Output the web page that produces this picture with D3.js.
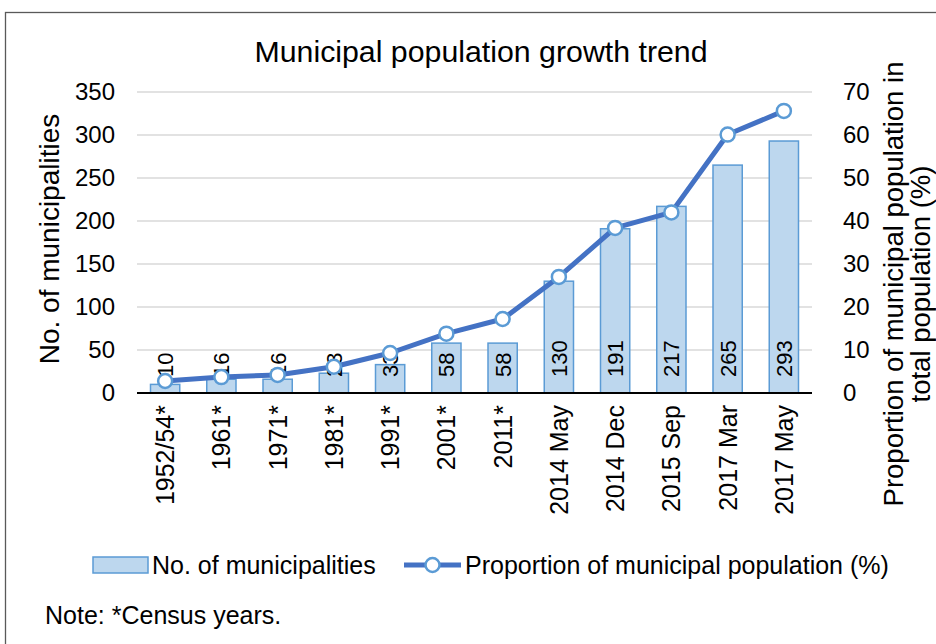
<!DOCTYPE html>
<html>
<head>
<meta charset="utf-8">
<script src="https://cdn.jsdelivr.net/npm/d3@7"></script>
<style>
  html, body { margin: 0; padding: 0; background: #fff; }
  svg { display: block; font-family: "Liberation Sans", Arial, sans-serif; }
</style>
</head>
<body>
<svg id="chart" width="936" height="644"></svg>
<script>
// Survey points (census years marked with *)
const periods = ["1952/54*", "1961*", "1971*", "1981*", "1991*", "2001*", "2011*",
                 "2014 May", "2014 Dec", "2015 Sep", "2017 Mar", "2017 May"];
// Number of municipalities
const municipalities = [10, 16, 16, 23, 33, 58, 58, 130, 191, 217, 265, 293];
// Share of municipal population in total population (%)
const proportion = [2.8, 3.7, 4.2, 6.1, 9.3, 13.8, 17.2, 27.0, 38.4, 42.0, 60.1, 65.6];
// Axis ticks
const leftTicks = [0, 50, 100, 150, 200, 250, 300, 350];
const rightTicks = [0, 10, 20, 30, 40, 50, 60, 70];

const svg = d3.select("#chart");
const plot = { left: 137, right: 812, top: 92, bottom: 393 };

const x = d3.scaleBand().domain(periods).range([plot.left, plot.right]).paddingInner(0.48).paddingOuter(0.24);
const yL = d3.scaleLinear().domain([0, 350]).range([plot.bottom, plot.top]);
const yR = d3.scaleLinear().domain([0, 70]).range([plot.bottom, plot.top]);
const cx = d => x(d) + x.bandwidth() / 2;

// Chart frame
svg.append("rect").attr("x", 5.5).attr("y", 12.5).attr("width", 1000).attr("height", 700)
  .attr("fill", "none").attr("stroke", "#595959").attr("stroke-width", 1.3);

// Title
svg.append("text").attr("x", 481).attr("y", 62).attr("text-anchor", "middle")
  .attr("font-size", 30.3).attr("fill", "#000").text("Municipal population growth trend");

// Gridlines
svg.append("g").selectAll("line").data(leftTicks.filter(t => t > 0)).join("line")
  .attr("x1", plot.left).attr("x2", plot.right)
  .attr("y1", d => yL(d)).attr("y2", d => yL(d))
  .attr("stroke", "#d9d9d9").attr("stroke-width", 1.5);

// Left axis
const axL = svg.append("g").attr("transform", `translate(${plot.left},0)`)
  .call(d3.axisLeft(yL).tickValues(leftTicks).tickSize(0).tickPadding(22));
axL.select(".domain").remove();
axL.selectAll("text").attr("font-size", 24).attr("fill", "#000").attr("font-family", "Liberation Sans, Arial, sans-serif");

// Right axis
const axR = svg.append("g").attr("transform", `translate(${plot.right},0)`)
  .call(d3.axisRight(yR).tickValues(rightTicks).tickSize(0).tickPadding(31));
axR.select(".domain").remove();
axR.selectAll("text").attr("font-size", 24).attr("fill", "#000").attr("font-family", "Liberation Sans, Arial, sans-serif");

// Bars
svg.append("g").selectAll("rect").data(periods).join("rect")
  .attr("x", d => x(d)).attr("width", x.bandwidth())
  .attr("y", (d, i) => yL(municipalities[i]))
  .attr("height", (d, i) => plot.bottom - yL(municipalities[i]))
  .attr("fill", "#bdd7ee").attr("stroke", "#5b9bd5").attr("stroke-width", 1.5);

// Baseline
svg.append("line").attr("x1", plot.left).attr("x2", plot.right)
  .attr("y1", plot.bottom).attr("y2", plot.bottom)
  .attr("stroke", "#000").attr("stroke-width", 2);

// Bar value labels
svg.append("g").selectAll("text").data(periods).join("text")
  .attr("transform", d => `translate(${cx(d) + 8},${plot.bottom - 16}) rotate(-90)`)
  .attr("font-size", 22).attr("fill", "#000")
  .text((d, i) => municipalities[i]);

// Category labels
svg.append("g").selectAll("text").data(periods).join("text")
  .attr("transform", d => `translate(${cx(d) + 9},${plot.bottom + 12}) rotate(-90)`)
  .attr("text-anchor", "end").attr("font-size", 25).attr("fill", "#000")
  .text(d => d);

// Proportion line
const line = d3.line().x((d, i) => cx(periods[i])).y(d => yR(d));
svg.append("path").datum(proportion).attr("d", line)
  .attr("fill", "none").attr("stroke", "#4472c4").attr("stroke-width", 5)
  .attr("stroke-linejoin", "round");
svg.append("g").selectAll("circle").data(proportion).join("circle")
  .attr("cx", (d, i) => cx(periods[i])).attr("cy", d => yR(d)).attr("r", 7)
  .attr("fill", "#fff").attr("stroke", "#5b9bd5").attr("stroke-width", 2.5);

// Axis titles
svg.append("text").attr("transform", `translate(59,239) rotate(-90)`)
  .attr("text-anchor", "middle").attr("font-size", 28).attr("fill", "#000").text("No. of municipalities");
const rt = svg.append("text").attr("transform", `translate(903,284) rotate(-90)`)
  .attr("text-anchor", "middle").attr("font-size", 27.5).attr("fill", "#000");
rt.append("tspan").attr("x", 0).attr("dy", 0).text("Proportion of municipal population in");
rt.append("tspan").attr("x", 0).attr("dy", 27).text("total population (%)");

// Legend
const lg = svg.append("g");
lg.append("rect").attr("x", 93).attr("y", 557).attr("width", 55).attr("height", 16)
  .attr("fill", "#bdd7ee").attr("stroke", "#5b9bd5").attr("stroke-width", 1.5);
lg.append("text").attr("x", 152).attr("y", 574).attr("font-size", 25).attr("fill", "#000").text("No. of municipalities");
lg.append("line").attr("x1", 404).attr("x2", 461).attr("y1", 565).attr("y2", 565)
  .attr("stroke", "#4472c4").attr("stroke-width", 5);
lg.append("circle").attr("cx", 432.5).attr("cy", 565).attr("r", 7)
  .attr("fill", "#fff").attr("stroke", "#5b9bd5").attr("stroke-width", 2.5);
lg.append("text").attr("x", 465).attr("y", 574).attr("font-size", 25).attr("fill", "#000").text("Proportion of municipal population (%)");

// Note
svg.append("text").attr("x", 45).attr("y", 624).attr("font-size", 25).attr("fill", "#000").text("Note: *Census years.");
</script>
</body>
</html>
